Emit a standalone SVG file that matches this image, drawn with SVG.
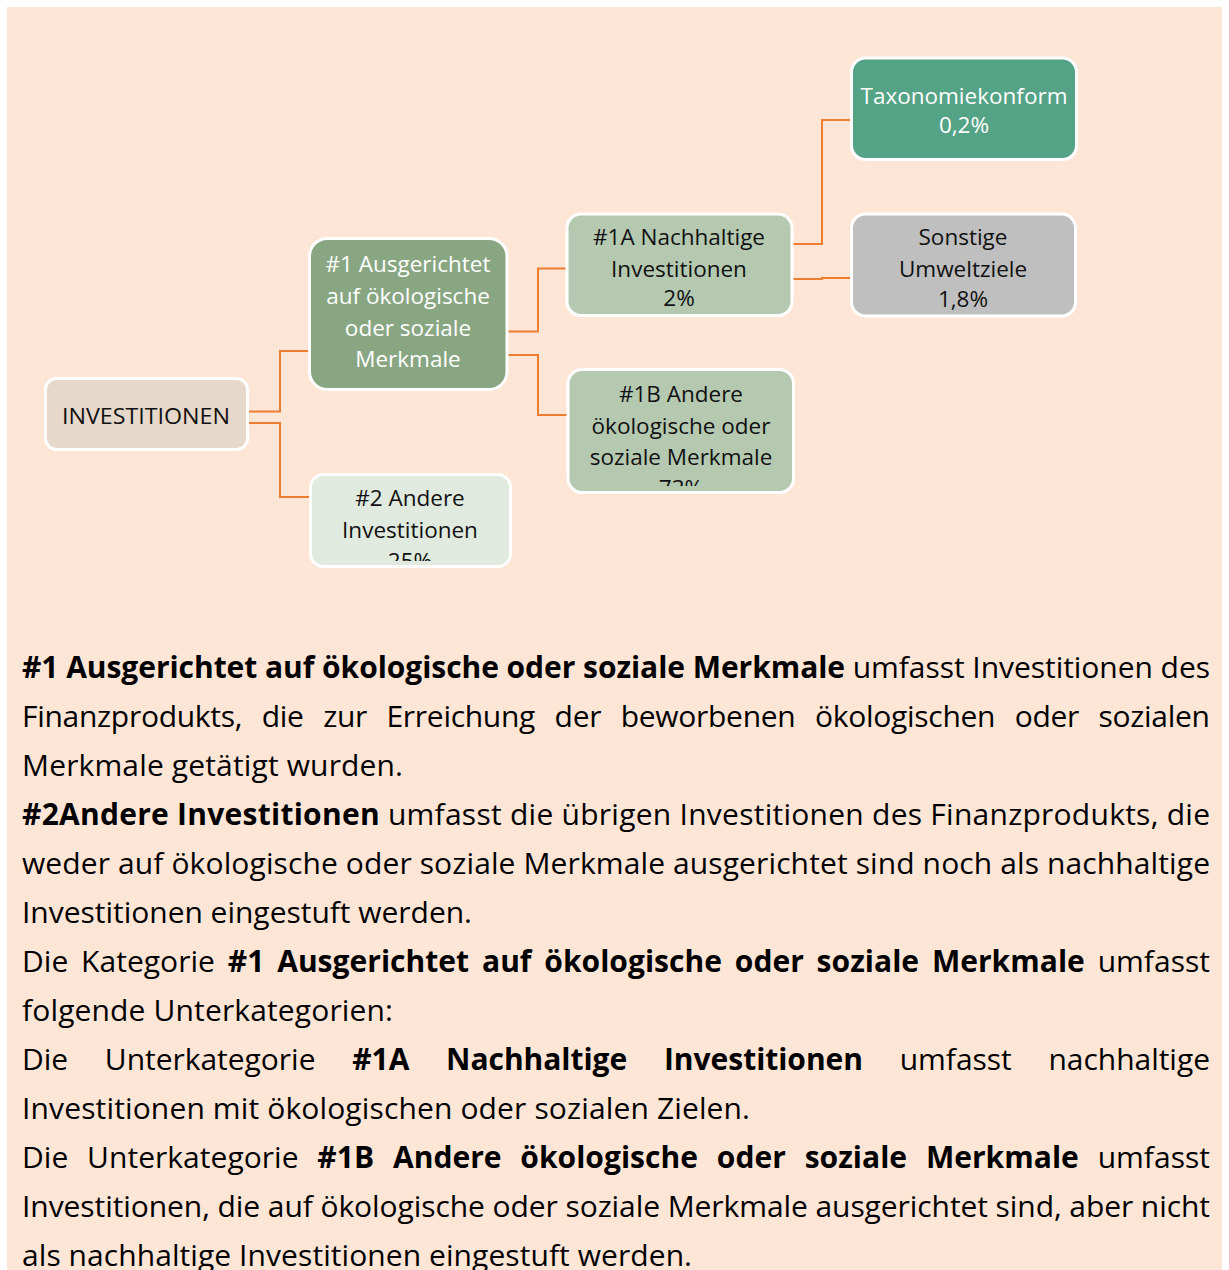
<svg xmlns="http://www.w3.org/2000/svg" width="1229" height="1270" viewBox="0 0 1229 1270">
<style>
.node rect.box{stroke:#FFFFFF;stroke-width:3}
.nt{font-family:"Open Sans","Noto Sans","DejaVu Sans",sans-serif;font-size:22.5px;text-anchor:middle}
.dark{fill:#111111}
.light{fill:#FFFFFF}
.conn{fill:none;stroke:#ED7D31;stroke-width:2}
.p{font-family:"Open Sans","Noto Sans","DejaVu Sans",sans-serif;font-size:30px;fill:#000000}
.b{font-weight:bold}
</style>
<defs>
<clipPath id="c1"><rect x="310" y="240" width="197" height="143"/></clipPath>
<clipPath id="c2"><rect x="311" y="475" width="199" height="86"/></clipPath>
<clipPath id="c1b"><rect x="568" y="370" width="225" height="116"/></clipPath>
</defs>
<rect x="0" y="0" width="1229" height="1270" fill="#FFFFFF"/>
<rect x="7" y="7" width="1215" height="1263" fill="#FDE6D6"/>

<g id="connectors">
<polyline class="conn" points="249,411.5 280,411.5 280,351 309,351"/>
<polyline class="conn" points="249,423 280,423 280,497 310,497"/>
<polyline class="conn" points="508,331.5 538,331.5 538,268.5 566,268.5"/>
<polyline class="conn" points="508,355 538,355 538,415 567,415"/>
<polyline class="conn" points="793,244 822,244 822,120 850,120"/>
<polyline class="conn" points="793,279 822,279 822,278 850,278"/>
</g>

<g id="node-investitionen" class="node">
<rect class="box" x="45.5" y="378.5" width="202" height="71" rx="11" fill="#E6D8CA"/>
<text class="nt dark" x="146" y="424" textLength="168" lengthAdjust="spacingAndGlyphs">INVESTITIONEN</text>
</g>

<g id="node-1" class="node">
<rect class="box" x="309.5" y="238.5" width="197.5" height="151" rx="18" fill="#89A683"/>
<g clip-path="url(#c1)">
<text class="nt light" x="408" y="272">#1 Ausgerichtet</text>
<text class="nt light" x="408" y="303.5">auf ökologische</text>
<text class="nt light" x="408" y="335.5">oder soziale</text>
<text class="nt light" x="408" y="367">Merkmale</text>
<text class="nt light" x="408" y="399">75%</text>
</g>
</g>

<g id="node-2" class="node">
<rect class="box" x="310.5" y="474.5" width="200" height="92" rx="13" fill="#E0EADF"/>
<g clip-path="url(#c2)">
<text class="nt dark" x="410" y="506">#2 Andere</text>
<text class="nt dark" x="410" y="537.5">Investitionen</text>
<text class="nt dark" x="410" y="568.5">25%</text>
</g>
</g>

<g id="node-1a" class="node">
<rect class="box" x="567" y="214" width="225" height="101.5" rx="14" fill="#B5C9B1"/>
<text class="nt dark" x="679" y="245">#1A Nachhaltige</text>
<text class="nt dark" x="679" y="277">Investitionen</text>
<text class="nt dark" x="679" y="306">2%</text>
</g>

<g id="node-1b" class="node">
<rect class="box" x="568" y="369.5" width="225.5" height="123" rx="14" fill="#B5C9B1"/>
<g clip-path="url(#c1b)">
<text class="nt dark" x="681" y="401.5">#1B Andere</text>
<text class="nt dark" x="681" y="433.5">ökologische oder</text>
<text class="nt dark" x="681" y="465">soziale Merkmale</text>
<text class="nt dark" x="681" y="496">73%</text>
</g>
</g>

<g id="node-taxonomie" class="node">
<rect class="box" x="851.5" y="58" width="225" height="101.5" rx="14" fill="#55A386"/>
<text class="nt light" x="964" y="104">Taxonomiekonform</text>
<text class="nt light" x="964" y="133">0,2%</text>
</g>

<g id="node-sonstige" class="node">
<rect class="box" x="851.5" y="214" width="224" height="102" rx="14" fill="#BFBFBF"/>
<text class="nt dark" x="963" y="245">Sonstige</text>
<text class="nt dark" x="963" y="277">Umweltziele</text>
<text class="nt dark" x="963" y="306.5">1,8%</text>
</g>

<g id="text-block">
<text class="p" x="22" y="678" textLength="1188" lengthAdjust="spacing"><tspan class="b">#1 Ausgerichtet auf ökologische oder soziale Merkmale</tspan> umfasst Investitionen des</text>
<text class="p" x="22" y="727" word-spacing="12" textLength="1188" lengthAdjust="spacing">Finanzprodukts, die zur Erreichung der beworbenen ökologischen oder sozialen</text>
<text class="p" x="22" y="776" textLength="381" lengthAdjust="spacing">Merkmale getätigt wurden.</text>
<text class="p" x="22" y="825" textLength="1188" lengthAdjust="spacing"><tspan class="b">#2Andere Investitionen</tspan> umfasst die übrigen Investitionen des Finanzprodukts, die</text>
<text class="p" x="22" y="874" textLength="1188" lengthAdjust="spacing">weder auf ökologische oder soziale Merkmale ausgerichtet sind noch als nachhaltige</text>
<text class="p" x="22" y="923" textLength="450" lengthAdjust="spacing">Investitionen eingestuft werden.</text>
<text class="p" x="22" y="972" word-spacing="5" textLength="1188" lengthAdjust="spacing">Die Kategorie <tspan class="b">#1 Ausgerichtet auf ökologische oder soziale Merkmale</tspan> umfasst</text>
<text class="p" x="22" y="1021" textLength="371" lengthAdjust="spacing">folgende Unterkategorien:</text>
<text class="p" x="22" y="1070" word-spacing="29" textLength="1188" lengthAdjust="spacing">Die Unterkategorie <tspan class="b">#1A Nachhaltige Investitionen</tspan> umfasst nachhaltige</text>
<text class="p" x="22" y="1119" textLength="728" lengthAdjust="spacing">Investitionen mit ökologischen oder sozialen Zielen.</text>
<text class="p" x="22" y="1168" word-spacing="11" textLength="1188" lengthAdjust="spacing">Die Unterkategorie <tspan class="b">#1B Andere ökologische oder soziale Merkmale</tspan> umfasst</text>
<text class="p" x="22" y="1217" textLength="1188" lengthAdjust="spacing">Investitionen, die auf ökologische oder soziale Merkmale ausgerichtet sind, aber nicht</text>
<text class="p" x="22" y="1266" textLength="670" lengthAdjust="spacing">als nachhaltige Investitionen eingestuft werden.</text>
</g>
</svg>
